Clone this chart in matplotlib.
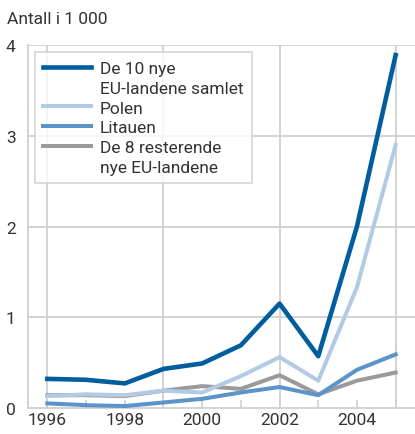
import numpy as np
import matplotlib
matplotlib.use("Agg")
import matplotlib.pyplot as plt
from matplotlib.lines import Line2D

# ----------------------------
# Data
# ----------------------------
years = [1996, 1997, 1998, 1999, 2000, 2001, 2002, 2003, 2004, 2005]
eu10_total = [0.32, 0.31, 0.27, 0.43, 0.49, 0.69, 1.15, 0.57, 2.00, 3.89]
polen = [0.13, 0.15, 0.14, 0.19, 0.17, 0.35, 0.56, 0.30, 1.33, 2.90]
litauen = [0.05, 0.03, 0.02, 0.06, 0.10, 0.17, 0.23, 0.14, 0.42, 0.59]
eu8_rest = [0.14, 0.14, 0.13, 0.19, 0.24, 0.21, 0.36, 0.15, 0.30, 0.39]

labels = [["De 10 nye", "EU-landene samlet"], ["Polen"], ["Litauen"],
          ["De 8 resterende", "nye EU-landene"]]
xtick_labels = [1996, 1998, 2000, 2002, 2004]
ytick_vals = [0, 1, 2, 3, 4]

# ----------------------------
# Style
# ----------------------------
plt.rcParams["font.family"] = ["Roboto", "DejaVu Sans"]
text_col = "#333333"
grid_col = "#d0d0d0"
fs = 12.5

fig = plt.figure(figsize=(4.15, 4.35), dpi=100)
ax = fig.add_axes([0.0675, 0.06, 0.9325, 0.834])

l4, = ax.plot(years, eu8_rest, color="#9a9a9c", lw=2.9, zorder=3)
l3, = ax.plot(years, litauen, color="#5b94c9", lw=2.9, zorder=4)
l2, = ax.plot(years, polen, color="#b3cae5", lw=2.9, zorder=5)
l1, = ax.plot(years, eu10_total, color="#005d9e", lw=3.3, zorder=6)

ax.set_xlim(1995.5, 2005.5)
ax.set_ylim(0, 4)

# vertical grid every third year, horizontal every unit
for gx in [1996, 1999, 2002, 2005]:
    ax.axvline(gx, color=grid_col, lw=1.3, zorder=1)
for gy in ytick_vals[1:]:
    ax.axhline(gy, color=grid_col, lw=1.3, zorder=1)

ax.set_xticks(years)
ax.set_xticklabels([str(y) if y in xtick_labels else "" for y in years])
ax.set_yticks(ytick_vals)
ax.tick_params(axis="x", direction="in", length=6, width=1.2, color=grid_col,
               labelsize=fs, labelcolor=text_col, pad=3)
ax.tick_params(axis="y", length=0, labelsize=fs, labelcolor=text_col, pad=9)

for s in ["top", "right"]:
    ax.spines[s].set_visible(False)
for s in ["left", "bottom"]:
    ax.spines[s].set_color(grid_col)
    ax.spines[s].set_linewidth(1.3)

fig.text(0.018, 0.955, "Antall i 1 000", fontsize=fs, color=text_col, va="center")

# legend: one row per text line, handle only on the first line of each entry
blank = Line2D([], [], color="none")
leg_handles, leg_labels = [], []
for line, lab in zip([l1, l2, l3, l4], labels):
    for k, part in enumerate(lab):
        leg_handles.append(line if k == 0 else blank)
        leg_labels.append(part)

leg = ax.legend(leg_handles, leg_labels,
                loc="upper left", bbox_to_anchor=(0.017, 0.98),
                fontsize=fs, frameon=True, fancybox=False,
                handlelength=2.75, handletextpad=0.5, labelspacing=0.26,
                borderpad=0.5, borderaxespad=0)
leg.get_frame().set_edgecolor(grid_col)
leg.get_frame().set_linewidth(1.3)
for t in leg.get_texts():
    t.set_color(text_col)

fig.savefig("out.png", dpi=100)
